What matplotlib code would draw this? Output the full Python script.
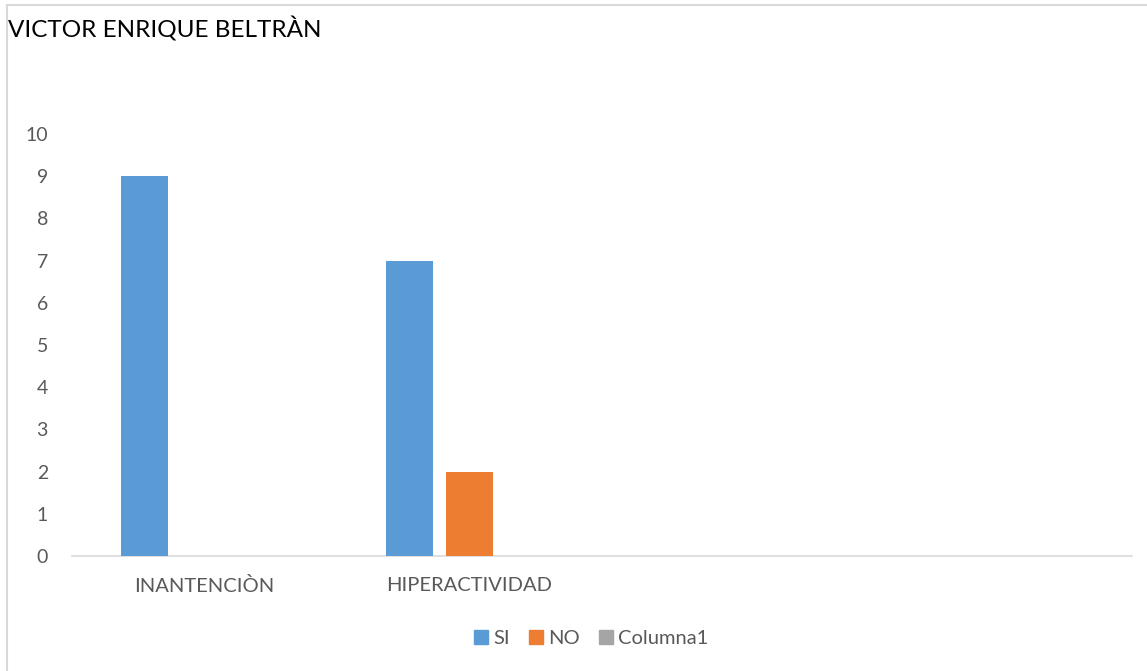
import matplotlib
matplotlib.use("Agg")
import matplotlib.pyplot as plt
from matplotlib.lines import Line2D
import numpy as np

plt.rcParams['font.family'] = ['Lato', 'DejaVu Sans']

title = "VICTOR ENRIQUE BELTRÀN"
categories = ["INANTENCIÒN", "HIPERACTIVIDAD", "", ""]
series_names = ["SI", "NO", "Columna1"]
si_values = [9, 7, 0, 0]
no_values = [0, 2, 0, 0]
col1_values = [0, 0, 0, 0]
colors = ["#5b9bd5", "#ed7d31", "#a5a5a5"]
yticks = list(range(0, 11))

fig = plt.figure(figsize=(11.47, 6.71), dpi=100)
ax = fig.add_axes([0.0624, 0.1714, 0.9246, 0.6289])

x = np.arange(len(categories))
width = 0.177
step = 0.2245
for i, (vals, name, c) in enumerate(zip([si_values, no_values, col1_values], series_names, colors)):
    ax.bar(x + (i - 1) * step, vals, width=width, color=c, label=name, zorder=3)

ax.set_xlim(-0.5, len(categories) - 0.5)
ax.set_ylim(0, 10)
ax.set_yticks(yticks)
ax.set_xticks(x)
ax.set_xticklabels(categories)
for s in ["top", "right", "left"]:
    ax.spines[s].set_visible(False)
ax.spines["bottom"].set_color("#d9d9d9")
ax.spines["bottom"].set_linewidth(1.2)
ax.tick_params(axis="both", length=0, colors="#595959")
ax.tick_params(axis="y", pad=17, labelsize=14)
ax.tick_params(axis="x", pad=15, labelsize=14.5)

fig.text(0.007, 0.957, title, fontsize=17.5, color="#000000", ha="left", va="center")

handles = [Line2D([0], [0], marker="s", linestyle="none", markersize=9.5,
                  markerfacecolor=c, markeredgecolor=c) for c in colors]
leg = fig.legend(handles, series_names, loc="center", bbox_to_anchor=(0.514, 0.049),
                 ncol=3, frameon=False, fontsize=14.5, handletextpad=0.1,
                 columnspacing=0.8, handlelength=1.0)
for t in leg.get_texts():
    t.set_color("#595959")

# chart frame
fig.add_artist(Line2D([0.0061, 0.0061], [0.0, 0.9925], transform=fig.transFigure,
                      color="#d9d9d9", linewidth=1.5))
fig.add_artist(Line2D([0.0061, 1.0], [0.9925, 0.9925], transform=fig.transFigure,
                      color="#d9d9d9", linewidth=1.5))

fig.savefig("out.png", dpi=100, facecolor="white")
